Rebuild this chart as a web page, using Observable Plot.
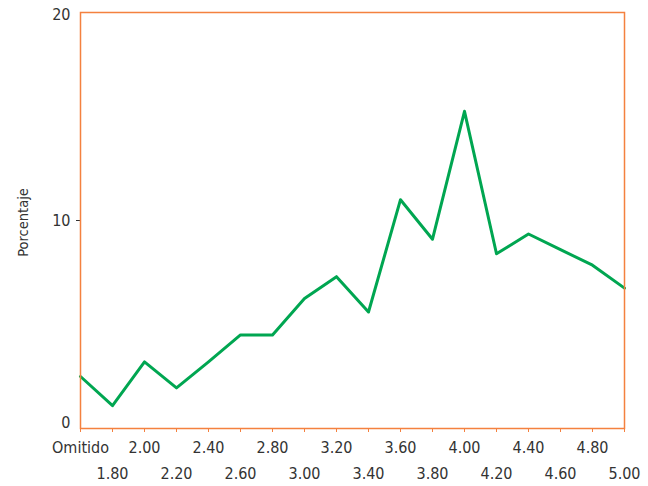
<!DOCTYPE html>
<html>
<head>
<meta charset="utf-8">
<script src="https://cdn.jsdelivr.net/npm/d3@7"></script>
<script src="https://cdn.jsdelivr.net/npm/@observablehq/plot@0.6"></script>
<style>
  html, body { margin: 0; padding: 0; background: #fff; }
</style>
</head>
<body>
<div id="chart"></div>
<script>
const categories = ["Omitido","1.80","2.00","2.20","2.40","2.60","2.80","3.00","3.20","3.40","3.60","3.80","4.00","4.20","4.40","4.60","4.80","5.00"];
const values = [2.5, 1.1, 3.2, 1.95, 3.2, 4.5, 4.5, 6.25, 7.3, 5.6, 11.0, 9.1, 15.25, 8.4, 9.35, 8.6, 7.85, 6.75];
const yTicks = [0, 10, 20];
const yLabel = "Porcentaje";

const data = categories.map((c, i) => ({cat: c, pct: values[i]}));
const evenCats = categories.filter((c, i) => i % 2 === 0);
const oddCats = categories.filter((c, i) => i % 2 === 1);

const orange = "#f4813f";
const green = "#00a651";
const textColor = "#333333";

const chart = Plot.plot({
  width: 648,
  height: 486,
  marginLeft: 80,
  marginRight: 24,
  marginTop: 12,
  marginBottom: 58,
  style: {
    fontFamily: "'Liberation Sans Narrow', 'DejaVu Sans Condensed', sans-serif",
    fontSize: "16px",
    color: textColor,
    background: "#fff"
  },
  x: {type: "point", domain: categories, padding: 0},
  y: {domain: [0, 20]},
  marks: [
    Plot.axisY({ticks: [10], tickSize: 4, stroke: textColor, text: null, label: null}),
    Plot.axisY({ticks: [yTicks[1]], tickSize: 0, tickPadding: 10, fill: textColor, label: null}),
    Plot.axisY({ticks: [yTicks[0]], tickSize: 0, tickPadding: 10, dy: -6, fill: textColor, label: null}),
    Plot.axisY({ticks: [yTicks[2]], tickSize: 0, tickPadding: 10, dy: 2, fill: textColor, label: null}),
    Plot.axisX({tickSize: 4, stroke: orange, text: null, label: null}),
    Plot.axisX({ticks: evenCats, tickSize: 0, tickPadding: 13, fill: textColor, label: null}),
    Plot.axisX({ticks: oddCats, tickSize: 0, tickPadding: 39, fill: textColor, label: null}),
    Plot.text([yLabel], {frameAnchor: "left", textAnchor: "middle", dx: -57, dy: 2, rotate: -90, fill: textColor, fontSize: 14.5}),
    Plot.lineY(data, {x: "cat", y: "pct", stroke: green, strokeWidth: 3}),
    Plot.frame({stroke: orange, strokeWidth: 1.5})
  ]
});
document.getElementById("chart").appendChild(chart);
</script>
</body>
</html>
